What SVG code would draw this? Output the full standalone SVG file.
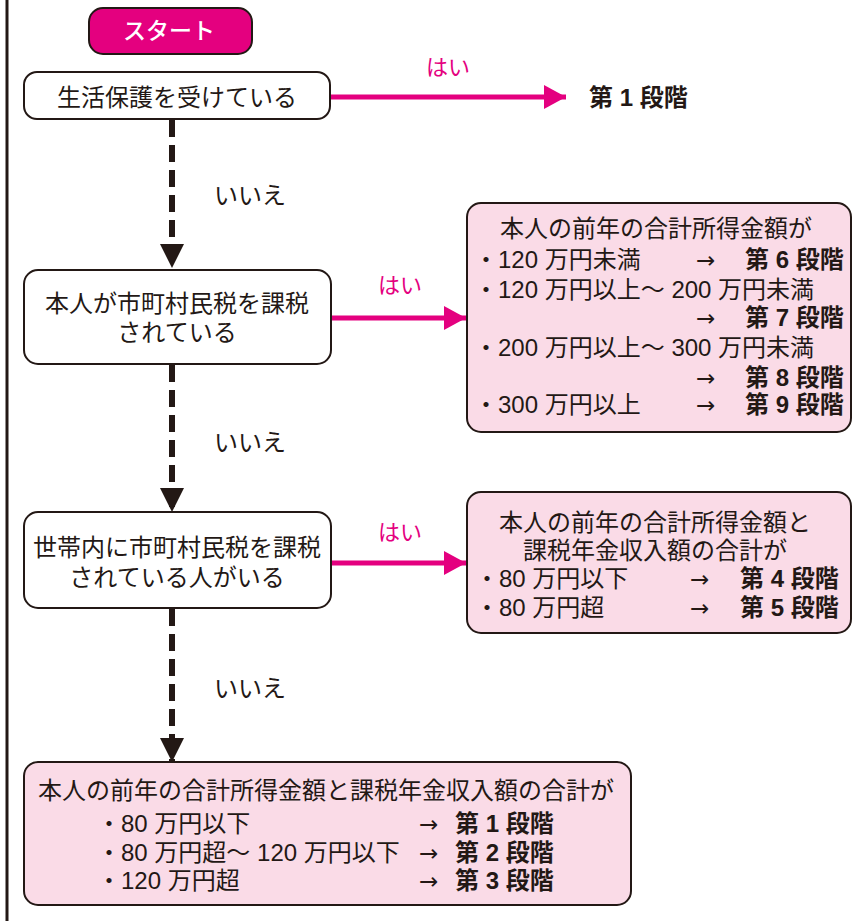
<svg xmlns="http://www.w3.org/2000/svg" width="857" height="921" viewBox="0 0 857 921">
<defs>
<style>
text{font-family:"Liberation Sans","Noto Sans CJK JP",sans-serif;fill:#231815;font-size:24px}
.box{fill:#fff;stroke:#231815;stroke-width:2}
.pbox{fill:#fadbe7;stroke:#231815;stroke-width:2}
.b{font-weight:bold}
.ar{font-family:"DejaVu Sans",sans-serif;font-size:23px}
.m{fill:#e4007f;font-size:22px}
.w{fill:#fff;font-size:23px;font-weight:500}
.dash{stroke:#231815;stroke-width:6;stroke-dasharray:17 8;fill:none}
.pl{stroke:#e4007f;stroke-width:5;fill:none}
.mid{text-anchor:middle}
</style>
<marker id="ah" markerWidth="24" markerHeight="24" viewBox="0 0 24 24" refX="24" refY="12" orient="auto" markerUnits="userSpaceOnUse"><path d="M0,0 L24,12 L0,24 Z" fill="#231815"/></marker>
<marker id="ph" markerWidth="22" markerHeight="24" viewBox="0 0 22 24" refX="22" refY="12" orient="auto" markerUnits="userSpaceOnUse"><path d="M0,0 L22,12 L0,24 Z" fill="#e4007f"/></marker>
</defs>
<rect width="857" height="921" fill="#fff"/>
<line x1="7" y1="0" x2="7" y2="921" stroke="#231815" stroke-width="3"/>

<g id="connectors">
<line class="dash" x1="172" y1="120" x2="172" y2="268" marker-end="url(#ah)"/>
<line class="dash" x1="172" y1="365" x2="172" y2="512" marker-end="url(#ah)"/>
<line class="dash" x1="172" y1="609" x2="172" y2="762" marker-end="url(#ah)"/>
<line class="pl" x1="331" y1="97" x2="566" y2="97" marker-end="url(#ph)"/>
<line class="pl" x1="332" y1="318" x2="466" y2="318" marker-end="url(#ph)"/>
<line class="pl" x1="332" y1="563" x2="466" y2="563" marker-end="url(#ph)"/>
<text class="m mid" x="448" y="75">はい</text>
<text class="m mid" x="400" y="293">はい</text>
<text class="m mid" x="400" y="540">はい</text>
<text class="mid" x="250" y="204">いいえ</text>
<text class="mid" x="250" y="451">いいえ</text>
<text class="mid" x="250" y="697">いいえ</text>
</g>

<g id="start">
<rect x="89" y="8" width="163" height="46" rx="14" fill="#e4007f" stroke="#231815" stroke-width="2"/>
<text class="w mid" x="169" y="39">スタート</text>
</g>

<g id="q1">
<rect class="box" x="24" y="72" width="306" height="47" rx="13"/>
<text class="mid" x="177" y="106">生活保護を受けている</text>
</g>

<g id="stage1">
<text class="b" x="589" y="106">第 1 段階</text>
</g>

<g id="q2">
<rect class="box" x="24" y="270" width="307" height="94" rx="14"/>
<text class="mid"><tspan x="177" y="312">本人が市町村民税を課税</tspan><tspan x="177" y="341">されている</tspan></text>
</g>

<g id="r2">
<rect class="pbox" x="467" y="203" width="384" height="229" rx="14"/>
<text><tspan x="656" y="237" text-anchor="middle">本人の前年の合計所得金額が</tspan><tspan x="474" y="268">・120 万円未満</tspan><tspan class="ar" x="696" y="268">→</tspan><tspan class="b" x="745" y="268">第 6 段階</tspan><tspan x="474" y="298">・120 万円以上～ 200 万円未満</tspan><tspan class="ar" x="696" y="326">→</tspan><tspan class="b" x="745" y="326">第 7 段階</tspan><tspan x="474" y="356">・200 万円以上～ 300 万円未満</tspan><tspan class="ar" x="696" y="386">→</tspan><tspan class="b" x="745" y="386">第 8 段階</tspan><tspan x="474" y="413">・300 万円以上</tspan><tspan class="ar" x="696" y="413">→</tspan><tspan class="b" x="745" y="413">第 9 段階</tspan></text>
</g>

<g id="q3">
<rect class="box" x="24" y="512" width="307" height="96" rx="14"/>
<text class="mid"><tspan x="177" y="556">世帯内に市町村民税を課税</tspan><tspan x="177" y="586">されている人がいる</tspan></text>
</g>

<g id="r3">
<rect class="pbox" x="467" y="492" width="384" height="141" rx="14"/>
<text><tspan x="655" y="531" text-anchor="middle">本人の前年の合計所得金額と</tspan><tspan x="655" y="559" text-anchor="middle">課税年金収入額の合計が</tspan><tspan x="475" y="587" text-anchor="start">・80 万円以下</tspan><tspan class="ar" x="690" y="587">→</tspan><tspan class="b" x="740" y="587">第 4 段階</tspan><tspan x="475" y="616">・80 万円超</tspan><tspan class="ar" x="690" y="616">→</tspan><tspan class="b" x="740" y="616">第 5 段階</tspan></text>
</g>

<g id="r4">
<rect class="pbox" x="24" y="762" width="607" height="143" rx="14"/>
<text><tspan x="326" y="799" text-anchor="middle">本人の前年の合計所得金額と課税年金収入額の合計が</tspan><tspan x="97" y="832" text-anchor="start">・80 万円以下</tspan><tspan class="ar" x="419" y="832">→</tspan><tspan class="b" x="455" y="832">第 1 段階</tspan><tspan x="97" y="861">・80 万円超～ 120 万円以下</tspan><tspan class="ar" x="419" y="861">→</tspan><tspan class="b" x="455" y="861">第 2 段階</tspan><tspan x="97" y="889">・120 万円超</tspan><tspan class="ar" x="419" y="889">→</tspan><tspan class="b" x="455" y="889">第 3 段階</tspan></text>
</g>
</svg>
